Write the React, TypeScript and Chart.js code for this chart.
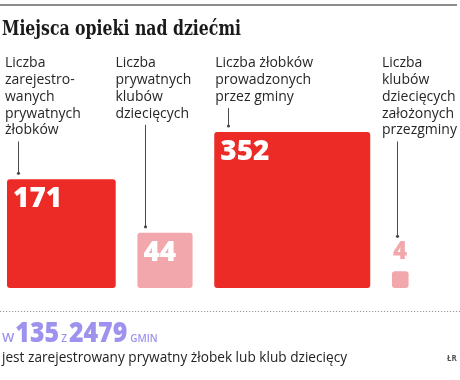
import React, { useEffect, useRef } from "react";
import { Chart, registerables } from "chart.js";

Chart.register(...registerables);

// ---- data ----
const titleText = "Miejsca opieki nad dziećmi";
const categoryLines: string[][] = [
  ["Liczba", "zarejestro-", "wanych", "prywatnych", "żłobków"],
  ["Liczba", "prywatnych", "klubów", "dziecięcych"],
  ["Liczba żłobków", "prowadzonych", "przez gminy"],
  ["Liczba", "klubów", "dziecięcych", "założonych", "przezgminy"],
];
const values = [171, 44, 352, 4];
const isNursery = [true, false, true, false];
const gminyWith = 135;
const gminyTotal = 2479;
const footerText = "jest zarejestrowany prywatny żłobek lub klub dziecięcy";
const sourceText = "ŁR";

// ---- styles / layout ----
const RED = "#ec2a26";
const PINK = "#f1a7ac";
const PURPLE = "#9d92ee";
const GAP = 21.7;
const labelDx = [-2, -22, 1, -10];
const lineDx = [11, 8, 14, 5];

const squaresPlugin = {
  id: "squares",
  afterDatasetsUpdate(chart: any) {
    const meta = chart.getDatasetMeta(0);
    let cursor = chart.chartArea.left;
    meta.data.forEach((el: any) => {
      const side = el.base - el.y;
      el.width = side;
      el.x = cursor + side / 2;
      cursor += side + GAP;
    });
  },
};

const textPlugin = {
  id: "texts",
  afterDraw(chart: any) {
    const ctx: any = chart.ctx;
    const meta = chart.getDatasetMeta(0);
    ctx.save();
    // top rule
    ctx.fillStyle = "#8c8c8c";
    ctx.fillRect(0, 4, 457, 2);

    // title
    ctx.fillStyle = "#1a1a1a";
    ctx.font = 'bold 20px "DejaVu Serif"';
    ctx.textBaseline = "alphabetic";
    const tw = ctx.measureText(titleText).width;
    const sx = Math.min(1, 239 / tw);
    ctx.save();
    ctx.translate(2, 35);
    ctx.scale(sx, 1);
    ctx.fillText(titleText, 0, 0);
    ctx.restore();

    meta.data.forEach((el: any, i: number) => {
      const side = el.width;
      const left = el.x - side / 2;
      const top = el.y;
      // category label
      ctx.fillStyle = "#262626";
      ctx.font = '14px "Open Sans"';
      ctx.textBaseline = "middle";
      const lines = categoryLines[i];
      lines.forEach((ln, j) => {
        ctx.fillText(ln, left + labelDx[i], 63.5 + j * 16.75);
      });
      const lastY = 63.5 + (lines.length - 1) * 16.75;
      // value number
      const inside = side > 40;
      let numTop: number;
      ctx.textBaseline = "alphabetic";
      if (inside) {
        ctx.fillStyle = "#ffffff";
        ctx.font = '800 28px "Open Sans"';
        ctx.fillText(String(values[i]), left + 6, top + 28);
        numTop = top;
      } else {
        ctx.fillStyle = isNursery[i] ? RED : PINK;
        ctx.font = '800 24px "Open Sans"';
        ctx.fillText(String(values[i]), left + 1, top - 12);
        numTop = top - 29;
      }
      // connector
      const lx = Math.round(left + lineDx[i]) + 0.5;
      const y0 = lastY + 11;
      const y1 = numTop - 6;
      ctx.strokeStyle = "#4a4a4a";
      ctx.lineWidth = 1;
      ctx.beginPath();
      ctx.moveTo(lx, y0);
      ctx.lineTo(lx, y1);
      ctx.stroke();
      ctx.fillStyle = "#4a4a4a";
      ctx.beginPath();
      ctx.arc(lx, y1, 1.6, 0, Math.PI * 2);
      ctx.fill();
    });

    // dotted separator
    ctx.fillStyle = "#9a9a9a";
    for (let x = 0; x < 460; x += 3) ctx.fillRect(x, 311, 1.2, 1);

    // summary line
    ctx.fillStyle = PURPLE;
    ctx.textBaseline = "alphabetic";
    let x = 2;
    const base = 342;
    const parts: [string, string, number, number][] = [
      ["W", '600 13px "Open Sans"', 1, 1],
      [String(gminyWith), '800 29px "Open Sans"', 2, 0.86],
      ["Z", '600 10px "Open Sans"', 2, 1],
      [String(gminyTotal), '800 29px "Open Sans"', 3, 0.86],
      ["GMIN", '600 10px "Open Sans"', 0, 1],
    ];
    parts.forEach(([t, f, g, s]) => {
      ctx.font = f;
      ctx.save();
      ctx.translate(x, base);
      ctx.scale(s, 1);
      ctx.fillText(t, 0, 0);
      ctx.restore();
      x += ctx.measureText(t).width * s + g;
    });

    ctx.fillStyle = "#222222";
    ctx.font = '15px "Open Sans"';
    const fw = ctx.measureText(footerText).width;
    ctx.save();
    ctx.translate(2, 362);
    ctx.scale(Math.min(1.1, 345 / fw), 1);
    ctx.fillText(footerText, 0, 0);
    ctx.restore();

    ctx.fillStyle = "#555555";
    ctx.font = 'bold 8px "Open Sans"';
    ctx.fillText(sourceText, 447, 361);
    ctx.restore();
  },
};

export default function App() {
  const ref = useRef<HTMLCanvasElement | null>(null);
  useEffect(() => {
    document.body.style.margin = "0";
    const canvas = ref.current!;
    const chart = new Chart(canvas, {
      type: "bar",
      data: {
        labels: categoryLines.map((l) => l.join(" ")),
        datasets: [
          {
            data: values.map((v) => Math.sqrt(v)),
            backgroundColor: values.map((_, i) => (isNursery[i] ? RED : PINK)),
            borderRadius: 3,
            borderSkipped: false,
          },
        ],
      },
      options: {
        animation: false,
        responsive: false,
        devicePixelRatio: 1,
        events: [],
        layout: { padding: { left: 7, right: 0, top: 40, bottom: 92 } },
        plugins: {
          legend: { display: false },
          tooltip: { enabled: false },
          title: { display: false },
        },
        scales: {
          x: { display: false },
          y: { display: false, min: 0, max: 29.83 },
        },
      },
      plugins: [squaresPlugin, textPlugin],
    });
    return () => chart.destroy();
  }, []);
  return (
    <div style={{ width: 460, height: 380, background: "#fff" }}>
      <canvas ref={ref} width={460} height={380} style={{ display: "block" }} />
    </div>
  );
}
